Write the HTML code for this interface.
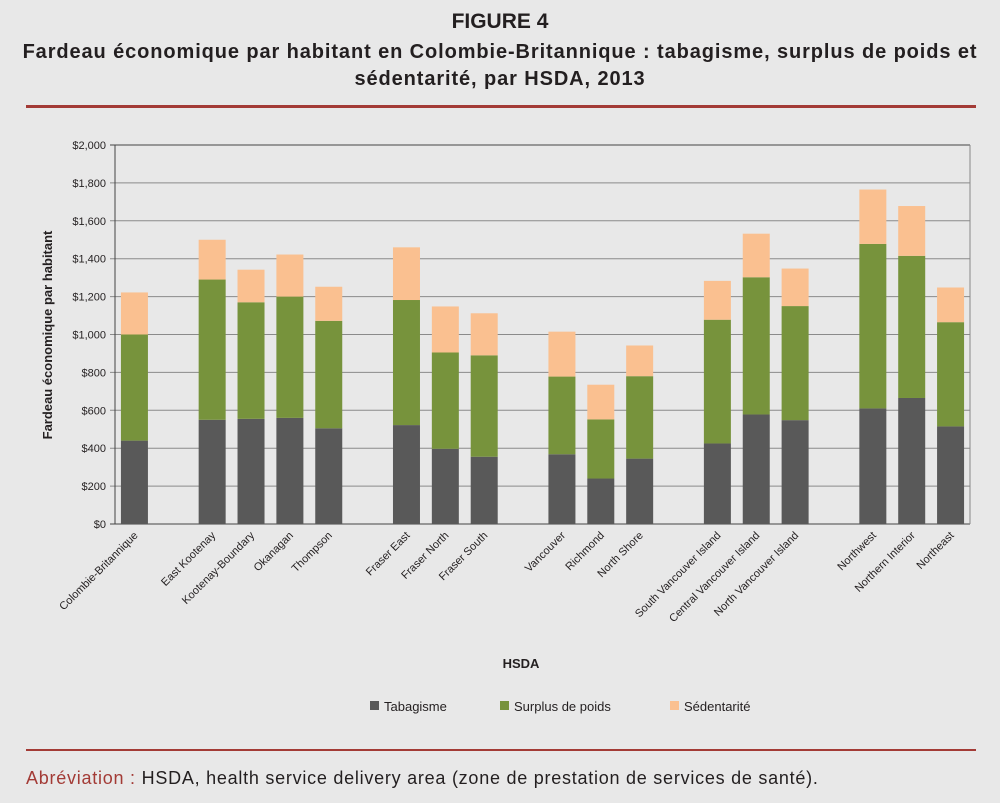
<!DOCTYPE html>
<html><head><meta charset="utf-8"><style>
body{margin:0;background:#e8e8e8;font-family:"Liberation Sans",sans-serif;}
#wrap{position:relative;width:1000px;height:803px;background:#e8e8e8;overflow:hidden}
.t{position:absolute;left:0;width:1000px;text-align:center;font-weight:bold;color:#231f20}
</style></head><body>
<div id="wrap">
<div class="t" style="top:10px;font-size:21px">FIGURE 4</div>
<div class="t" style="top:41px;font-size:20px;letter-spacing:0.9px">Fardeau économique par habitant en Colombie-Britannique : tabagisme, surplus de poids et<br><span style="line-height:30px">sédentarité, par HSDA, 2013</span></div>
<div style="position:absolute;left:26px;top:105px;width:950px;height:3px;background:#a33b36"></div>
<svg id="chart" width="1000" height="803" style="position:absolute;left:0;top:0"></svg>
<div style="position:absolute;left:26px;top:749px;width:950px;height:2px;background:#a33b36"></div>
<div style="position:absolute;left:26px;top:768px;font-size:18px;letter-spacing:0.75px;color:#231f20"><span style="color:#a33b36">Abréviation :</span> HSDA, health service delivery area (zone de prestation de services de santé).</div>
</div>
<script>
const categories=["Colombie-Britannique","","East Kootenay","Kootenay-Boundary","Okanagan","Thompson","","Fraser East","Fraser North","Fraser South","","Vancouver","Richmond","North Shore","","South Vancouver Island","Central Vancouver Island","North Vancouver Island","","Northwest","Northern Interior","Northeast"];
const tabagisme=[440,null,550,555,560,505,null,522,397,355,null,368,240,345,null,425,578,548,null,610,665,515];
const surplus=[560,null,740,615,640,567,null,660,508,535,null,410,312,435,null,653,724,602,null,868,750,550];
const sedentarite=[222,null,210,172,222,180,null,278,243,222,null,237,183,162,null,205,230,198,null,287,263,183];
const yTicks=[0,200,400,600,800,1000,1200,1400,1600,1800,2000];
const seriesNames=["Tabagisme","Surplus de poids","Sédentarité"];
const colors=["#595959","#77933c","#fac090"];
const NS="http://www.w3.org/2000/svg";
const svg=document.getElementById('chart');
const X0=115,X1=970,Y0=524,Y1=145;
const slot=(X1-X0)/categories.length;
const y=v=>Y0-(v/2000)*(Y0-Y1);
const xc=i=>X0+slot*(i+0.5);
function mk(tag,a){const e=document.createElementNS(NS,tag);for(const k in a)e.setAttribute(k,a[k]);svg.appendChild(e);return e;}
yTicks.forEach(t=>{
 const g=mk('line',{x1:X0-5,x2:X1,y1:y(t),y2:y(t),stroke:t===0||t===2000?'#444':'#8a8a8a','stroke-width':1});
 
 
 const l=mk('text',{x:X0-9,y:y(t)+4,'text-anchor':'end','font-size':11,fill:'#231f20'});
 l.textContent='$'+t.toLocaleString('en-US');
 
 
});
const ax=mk('line',{x1:X0,x2:X0,y1:Y1,y2:Y0,stroke:'#444'});


const rb=mk('line',{x1:X1,x2:X1,y1:Y1,y2:Y0,stroke:'#888'});


const bw=27;
categories.forEach((c,i)=>{
 if(!c)return;
 let base=0;
 [tabagisme,surplus,sedentarite].forEach((s,k)=>{
  const v=s[i];
  const r=mk('rect',{x:xc(i)-bw/2,y:y(base+v),width:bw,height:y(base)-y(base+v),fill:colors[k]});
  
  
  base+=v;
 });
 const tx=mk('text',{x:xc(i)+4,y:Y0+12,'text-anchor':'end','font-size':11,fill:'#231f20',transform:`rotate(-45 ${xc(i)+4} ${Y0+12})`});
 tx.textContent=c;
 
 
});
const yt=mk('text',{x:52,y:335,'text-anchor':'middle','font-size':13,'font-weight':'bold',fill:'#231f20',transform:'rotate(-90 52 335)'});
yt.textContent='Fardeau économique par habitant';


const xt=mk('text',{x:521,y:668,'text-anchor':'middle','font-size':13,'font-weight':'bold',fill:'#231f20'});
xt.textContent='HSDA';


const lx=[370,500,670];
seriesNames.forEach((n,k)=>{
 const r=mk('rect',{x:lx[k],y:701,width:9,height:9,fill:colors[k]});
 
 
 const t=mk('text',{x:lx[k]+14,y:711,'font-size':13,fill:'#231f20'});
 t.textContent=n;
 
 
});
</script>
</body></html>
